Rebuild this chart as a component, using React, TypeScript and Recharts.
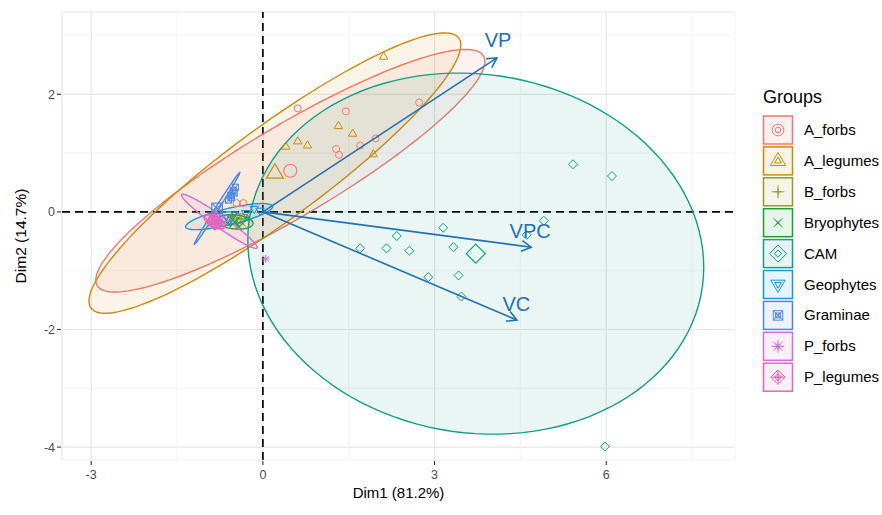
import React from "react";
import { CartesianGrid, ReferenceLine, Scatter, ScatterChart, XAxis, YAxis } from "recharts";

const groups = ["A_forbs", "A_legumes", "B_forbs", "Bryophytes", "CAM", "Geophytes", "Graminae", "P_forbs", "P_legumes"];
const groupColors = ["#F8766D", "#D08A08", "#939A25", "#1F9E34", "#0E9F87", "#1898D5", "#4A86E8", "#CF6EE0", "#F062B6"];
const groupShapes = ["circle", "triangle", "plus", "cross", "diamond", "triangleDown", "squareX", "asterisk", "diamondPlus"];

// individuals (Dim1, Dim2)
const aForbsPts = [[0.61, 1.76], [1.45, 1.71], [2.73, 1.86], [1.97, 1.25], [1.7, 1.13], [1.28, 1.07], [1.33, 0.97], [-0.46, 0.15], [-0.34, 0.15]];
const aLegumesPts = [[2.11, 2.64], [1.32, 1.46], [1.57, 1.33], [1.93, 0.98], [0.4, 1.11], [0.61, 1.2], [0.78, 1.13]];
const bForbsPts = [[-0.55, -0.08], [-0.38, -0.12], [-0.45, -0.2]];
const bryophytesPts = [[-0.62, -0.2], [-0.42, -0.25], [-0.3, -0.12], [-0.5, -0.06], [-0.35, -0.2]];
const camPts = [[1.7, -0.62], [2.16, -0.62], [2.34, -0.41], [2.56, -0.66], [3.15, -0.27], [3.33, -0.6], [2.89, -1.11], [3.42, -1.08], [3.47, -1.44], [4.61, -0.39], [4.91, -0.15], [5.42, 0.81], [6.1, 0.61], [5.98, -3.99]];
const geophytesPts = [[-0.15, 0.05], [-0.05, 0.02], [-0.3, -0.02], [-0.8, -0.12], [-0.55, -0.1]];
const graminaePts = [[-0.6, 0.2], [-0.56, 0.28], [-0.52, 0.36], [-0.48, 0.42], [-0.5, 0.32], [-0.55, 0.24]];
const pForbsPts = [[0.05, -0.8], [-0.85, -0.18], [-0.8, -0.1], [-0.9, -0.22]];
const pLegumesPts = [[-0.9, -0.15], [-0.8, -0.22], [-0.86, -0.08], [-0.75, -0.18]];
const groupPoints = [aForbsPts, aLegumesPts, bForbsPts, bryophytesPts, camPts, geophytesPts, graminaePts, pForbsPts, pLegumesPts];

// group centres (large symbols)
const groupMeans = [[0.48, 0.7], [0.21, 0.66], [-0.45, -0.12], [-0.49, -0.17], [3.72, -0.71], [-0.59, -0.08], [-0.8, 0.06], [-0.76, -0.16], [-0.84, -0.17]];

// confidence ellipses: semi axes and tilt (degrees)
const ellipseA = [3.9, 3.95, 0.2, 0.32, 4.0, 0.78, 0.73, 0.8, 0.2];
const ellipseB = [0.78, 0.8, 0.08, 0.12, 3.05, 0.14, 0.03, 0.1, 0.09];
const ellipseAngle = [30, 35.5, 10, -5, -8, 13, 57, -34.5, -25];

// variables
const varNames = ["VP", "VPC", "VC"];
const varDim1 = [4.09, 4.69, 4.44];
const varDim2 = [2.62, -0.6, -1.84];
const varLabelDim1 = [4.11, 4.67, 4.43];
const varLabelDim2 = [2.93, -0.33, -1.56];

const xTicks = [-3, -1.5, 0, 1.5, 3, 4.5, 6, 7.5];
const yTicks = [-4, -3, -2, -1, 0, 1, 2, 3];
const xMajor = [-3, 0, 3, 6];
const yMajor = [-4, -2, 0, 2];

const arrowColor = "#2171B5";
const FONT = "'Liberation Sans', Arial, sans-serif";

function ellipseOutline(i: number) {
  const [cx, cy] = groupMeans[i];
  const a = ellipseA[i];
  const b = ellipseB[i];
  const t0 = (ellipseAngle[i] * Math.PI) / 180;
  const pts = [];
  for (let k = 0; k <= 120; k++) {
    const t = (k / 120) * 2 * Math.PI;
    pts.push({
      x: cx + a * Math.cos(t) * Math.cos(t0) - b * Math.sin(t) * Math.sin(t0),
      y: cy + a * Math.cos(t) * Math.sin(t0) + b * Math.sin(t) * Math.cos(t0),
    });
  }
  return pts;
}

function Glyph({ kind, x, y, s, color, sw = 1 }: { kind: string; x: number; y: number; s: number; color: string; sw?: number }) {
  const common = { fill: "none", stroke: color, strokeWidth: sw };
  const d = s * 0.75;
  const plus = `M${x - s},${y}H${x + s}M${x},${y - s}V${y + s}`;
  const cross = `M${x - d},${y - d}L${x + d},${y + d}M${x - d},${y + d}L${x + d},${y - d}`;
  const diamond = `${x},${y - s} ${x + s},${y} ${x},${y + s} ${x - s},${y}`;
  switch (kind) {
    case "circle":
      return <circle cx={x} cy={y} r={s} {...common} />;
    case "triangle":
      return <polygon points={`${x},${y - s * 1.1} ${x + s},${y + s * 0.6} ${x - s},${y + s * 0.6}`} {...common} />;
    case "triangleDown":
      return <polygon points={`${x},${y + s * 1.1} ${x + s},${y - s * 0.6} ${x - s},${y - s * 0.6}`} {...common} />;
    case "plus":
      return <path d={plus} {...common} />;
    case "cross":
      return <path d={cross} {...common} />;
    case "diamond":
      return <polygon points={diamond} {...common} />;
    case "squareX":
      return (
        <g>
          <rect x={x - d} y={y - d} width={2 * d} height={2 * d} {...common} />
          <path d={cross} {...common} />
        </g>
      );
    case "asterisk":
      return <path d={plus + cross} {...common} />;
    default:
      return (
        <g>
          <polygon points={diamond} {...common} />
          <path d={plus} {...common} />
        </g>
      );
  }
}

const smallSize: Record<string, number> = { circle: 3.5, triangle: 4.2, plus: 4, cross: 3.6, diamond: 4.5, triangleDown: 4.2, squareX: 4, asterisk: 4, diamondPlus: 4.5 };
const bigSize: Record<string, number> = { circle: 6.5, triangle: 8.5, plus: 7, cross: 6.5, diamond: 9.5, triangleDown: 8, squareX: 7, asterisk: 7, diamondPlus: 8 };

const XTick = (p: any) => {
  const v = p.payload.value;
  if (!xMajor.includes(v)) return <g />;
  return (
    <g>
      <line x1={p.x} x2={p.x} y1={p.y + 1} y2={p.y + 5} stroke="#333" strokeWidth={1.1} />
      <text x={p.x} y={p.y + 19} textAnchor="middle" fontSize={12.5} fill="#4D4D4D" fontFamily={FONT}>{v}</text>
    </g>
  );
};

const YTick = (p: any) => {
  const v = p.payload.value;
  if (!yMajor.includes(v)) return <g />;
  return (
    <g>
      <line x1={p.x - 5} x2={p.x - 1} y1={p.y} y2={p.y} stroke="#333" strokeWidth={1.1} />
      <text x={p.x - 7} y={p.y + 4.5} textAnchor="end" fontSize={12.5} fill="#4D4D4D" fontFamily={FONT}>{v}</text>
    </g>
  );
};

const gridLine = (p: any, horizontal: boolean) => {
  const major = p.index % 2 === 0;
  return (
    <line
      key={`${horizontal ? "h" : "v"}-${p.index}`}
      x1={p.x1}
      y1={p.y1}
      x2={p.x2}
      y2={p.y2}
      stroke={major ? "#E6E6E6" : "#F0F0F0"}
      strokeWidth={major ? 1.2 : 0.8}
    />
  );
};

const arrowLine = (p: any) => {
  const [a, b] = p.points;
  const ang = Math.atan2(b.y - a.y, b.x - a.x);
  const len = 11;
  const spread = 0.5;
  const h1 = `${b.x - len * Math.cos(ang - spread)},${b.y - len * Math.sin(ang - spread)}`;
  const h2 = `${b.x - len * Math.cos(ang + spread)},${b.y - len * Math.sin(ang + spread)}`;
  return (
    <g>
      <line x1={a.x} y1={a.y} x2={b.x} y2={b.y} stroke={arrowColor} strokeWidth={1.6} />
      <polyline points={`${h1} ${b.x},${b.y} ${h2}`} fill="none" stroke={arrowColor} strokeWidth={1.6} />
    </g>
  );
};

const noShape = () => <g />;

export default function App() {
  const labelData = varNames.map((name, i) => ({ name, x: varLabelDim1[i], y: varLabelDim2[i] }));
  return (
    <div style={{ position: "absolute", left: 0, top: 0, width: 882, height: 515, background: "#fff", fontFamily: FONT }}>
      <ScatterChart width={882} height={515} margin={{ top: 12, right: 147, bottom: 0, left: 0 }}>
        <CartesianGrid horizontal={(p: any) => gridLine(p, true)} vertical={(p: any) => gridLine(p, false)} />
        <XAxis
          type="number"
          dataKey="x"
          domain={[-3.51, 8.25]}
          ticks={xTicks}
          interval={0}
          allowDataOverflow
          height={55}
          tickSize={0}
          tickMargin={0}
          tickLine={false}
          axisLine={false}
          tick={XTick}
        />
        <YAxis
          type="number"
          dataKey="y"
          domain={[-4.22, 3.4]}
          ticks={yTicks}
          interval={0}
          allowDataOverflow
          width={62}
          tickSize={0}
          tickMargin={0}
          tickLine={false}
          axisLine={false}
          tick={YTick}
        />
        <ReferenceLine x={0} stroke="#000" strokeDasharray="8 5" strokeWidth={1.7} />
        <ReferenceLine y={0} stroke="#000" strokeDasharray="8 5" strokeWidth={1.7} />
        {groups.map((g, i) => (
          <Scatter
            key={`ell-${g}`}
            data={ellipseOutline(i)}
            shape={noShape}
            lineType="joint"
            line={(p: any) => (
              <path
                d={p.points.map((pt: any, k: number) => `${k ? "L" : "M"}${pt.x},${pt.y}`).join("") + "Z"}
                fill={groupColors[i]}
                fillOpacity={0.09}
                stroke={groupColors[i]}
                strokeWidth={1.4}
              />
            )}
            isAnimationActive={false}
          />
        ))}
        {groups.map((g, i) => (
          <Scatter
            key={`pts-${g}`}
            data={groupPoints[i].map(([x, y]) => ({ x, y }))}
            shape={(p: any) => <Glyph kind={groupShapes[i]} x={p.cx} y={p.cy} s={smallSize[groupShapes[i]]} color={groupColors[i]} />}
            isAnimationActive={false}
          />
        ))}
        {groups.map((g, i) => (
          <Scatter
            key={`mean-${g}`}
            data={[{ x: groupMeans[i][0], y: groupMeans[i][1] }]}
            shape={(p: any) => <Glyph kind={groupShapes[i]} x={p.cx} y={p.cy} s={bigSize[groupShapes[i]]} color={groupColors[i]} sw={1.2} />}
            isAnimationActive={false}
          />
        ))}
        {varNames.map((v, i) => (
          <Scatter
            key={`var-${v}`}
            data={[{ x: 0, y: 0 }, { x: varDim1[i], y: varDim2[i] }]}
            shape={noShape}
            lineType="joint"
            line={arrowLine}
            isAnimationActive={false}
          />
        ))}
        <Scatter
          data={labelData}
          shape={(p: any) => (
            <text x={p.cx} y={p.cy + 7} textAnchor="middle" fontSize={20} fill={arrowColor} fontFamily={FONT}>
              {p.payload.name}
            </text>
          )}
          isAnimationActive={false}
        />
      </ScatterChart>
      <svg width={882} height={515} style={{ position: "absolute", left: 0, top: 0, pointerEvents: "none" }}>
        <text x={398.5} y={498} textAnchor="middle" fontSize={15} fill="#000" fontFamily={FONT}>Dim1 (81.2%)</text>
        <text x={26} y={236} textAnchor="middle" fontSize={15.5} fill="#000" fontFamily={FONT} transform="rotate(-90 26 236)">Dim2 (14.7%)</text>
        <text x={763} y={103} fontSize={18} fill="#000" fontFamily={FONT}>Groups</text>
        {groups.map((g, i) => {
          const cy = 130 + 30.9 * i;
          const c = groupColors[i];
          const k = groupShapes[i];
          return (
            <g key={g}>
              <rect x={763.5} y={cy - 14} width={29} height={28} fill={c} fillOpacity={0.1} stroke={c} strokeWidth={1.5} />
              <Glyph kind={k} x={778} y={cy} s={bigSize[k] * 0.9} color={c} />
              <Glyph kind={k} x={778} y={cy} s={smallSize[k] * 0.8} color={c} />
              <text x={804} y={cy + 5} fontSize={15} fill="#000" fontFamily={FONT}>{g}</text>
            </g>
          );
        })}
      </svg>
    </div>
  );
}
